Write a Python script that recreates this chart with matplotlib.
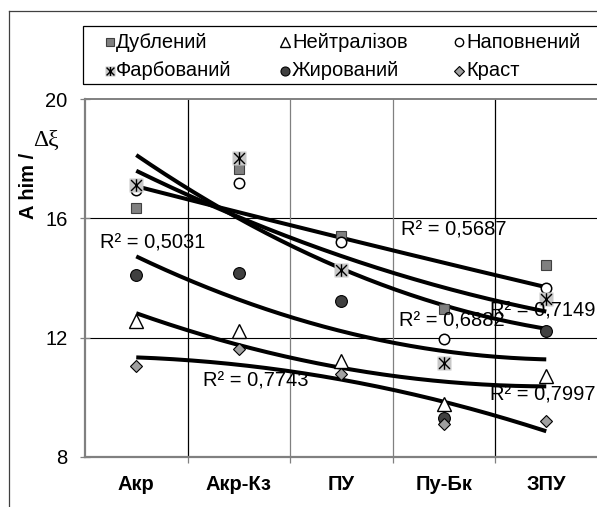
import numpy as np
import matplotlib
matplotlib.use("Agg")
import matplotlib.pyplot as plt
from matplotlib.lines import Line2D
from matplotlib.patches import Rectangle
from matplotlib.path import Path

plt.rcParams['font.family'] = ['Liberation Sans', 'DejaVu Sans']

categories = ["Акр", "Акр-Кз", "ПУ", "Пу-Бк", "ЗПУ"]
series_names = ["Дублений", "Нейтралізов", "Наповнений", "Фарбований", "Жирований", "Краст"]

dubleniy = [16.34, 17.65, 15.42, 12.97, 14.45]
neytralizov = [12.55, 12.22, 11.21, 9.77, 10.71]
napovneniy = [16.95, 17.18, 15.19, 11.94, 13.67]
farbovaniy = [17.12, 18.02, 14.26, 11.14, 13.28]
zhyrovaniy = [14.11, 14.17, 13.22, 9.32, 12.22]
krast = [11.05, 11.61, 10.77, 9.10, 9.21]

r2_labels = ["R² = 0,5687", "R² = 0,7997", "R² = 0,7149", "R² = 0,6882", "R² = 0,5031", "R² = 0,7743"]

yticks = [8, 12, 16, 20]

all_series = [dubleniy, neytralizov, napovneniy, farbovaniy, zhyrovaniy, krast]

FS = 14.5
W, H = 597, 507
fig = plt.figure(figsize=(W / 100, H / 100), dpi=100)

def fx(px):
    return px / W

def fy(py):
    return 1 - py / H

ax = fig.add_axes([fx(85), fy(457), fx(512.5), fy(99) - fy(457)])
x = np.arange(1, len(categories) + 1)
ax.set_xlim(0.5, len(categories) + 0.5)
ax.set_ylim(8, 20)

# gridlines
for yv in [12, 16]:
    ax.axhline(yv, color='black', lw=0.8, zorder=1)
for xv, c in zip([1.5, 2.5, 3.5, 4.5], ['black', '#808080', '#808080', 'black']):
    ax.axvline(xv, color=c, lw=0.9, zorder=1)

ax.spines['right'].set_visible(False)
ax.spines['left'].set_color('#808080')
ax.spines['left'].set_linewidth(1.6)
ax.spines['bottom'].set_color('#808080')
ax.spines['bottom'].set_linewidth(1.6)
ax.spines['top'].set_color('#808080')
ax.spines['top'].set_linewidth(1.4)

ax.set_yticks(yticks)
ax.set_yticklabels([str(v) for v in yticks], fontsize=FS)
ax.tick_params(axis='y', direction='inout', length=7.2, width=0.9, color='#808080', pad=9)
ax.set_xticks(x)
ax.set_xticklabels(categories, fontsize=FS, fontweight='bold')
ax.tick_params(axis='x', which='major', length=0, pad=13)
ax.set_xticks([1.5, 2.5, 3.5, 4.5], minor=True)
ax.tick_params(axis='x', which='minor', direction='out', length=4, width=0.9, color='#808080')

# trendlines (2nd order polynomial)
xf = np.linspace(1, len(categories), 200)
for ys in all_series:
    p = np.polyfit(x, ys, 2)
    ax.plot(xf, np.polyval(p, xf), color='black', lw=2.9, zorder=3, solid_capstyle='butt')

star_marker = Path([(-1, -1), (1, 1), (-1, 1), (1, -1), (0, -1.15), (0, 1.15)],
                   [Path.MOVETO, Path.LINETO, Path.MOVETO, Path.LINETO, Path.MOVETO, Path.LINETO])
styles = [
    dict(marker='s', ms=6.5, mfc='#808080', mec='#404040', mew=0.8),
    dict(marker='^', ms=9.5, mfc='white', mec='black', mew=1.0),
    dict(marker='o', ms=7.5, mfc='white', mec='black', mew=1.1),
    dict(marker=star_marker, ms=9, mfc='none', mec='black', mew=1.0),
    dict(marker='o', ms=8.5, mfc='#404040', mec='black', mew=0.8),
    dict(marker='D', ms=6.3, mfc='#a0a0a0', mec='black', mew=0.8),
]

for i, (ys, st) in enumerate(zip(all_series, styles)):
    if i == 3:
        ax.plot(x, ys, ls='none', marker='s', ms=9.5, mfc='#c8c8c8', mec='none', zorder=4 + i)
    ax.plot(x, ys, ls='none', zorder=4 + i, clip_on=False, **st)

# R² labels (positions in figure px)
label_pos = [(401, 230), (490, 395), (490, 311), (399, 321), (100, 243), (203, 381)]
for lab, (px, py) in zip(r2_labels, label_pos):
    fig.text(fx(px), fy(py), lab, fontsize=FS, ha='left', va='center', zorder=10)

# y label
fig.text(fx(28), fy(186), "A him /", rotation=90, fontsize=FS, fontweight='bold', ha='center', va='center')
fig.text(fx(46), fy(140), "Δξ", fontsize=17, family=['Liberation Serif', 'DejaVu Serif'], ha='center', va='center')

# outer chart border
fig.add_artist(Line2D([fx(9), fx(9)], [fy(11), 0], transform=fig.transFigure, color='#404040', lw=0.9))
fig.add_artist(Line2D([fx(9), 1], [fy(11), fy(11)], transform=fig.transFigure, color='#404040', lw=0.9))

# legend box
fig.add_artist(Rectangle((fx(83), fy(84)), 1.2, fy(26) - fy(84), transform=fig.transFigure,
                         fill=False, ec='black', lw=0.9))
col_marker = [110, 285, 459]
col_text = [116, 292, 466]
row_y = [42, 71]
leg_styles = [
    dict(marker='s', ms=6, mfc='#808080', mec='#404040', mew=0.8),
    dict(marker='^', ms=6.5, mfc='white', mec='black', mew=1.0),
    dict(marker='o', ms=6, mfc='white', mec='black', mew=1.0),
    dict(marker=star_marker, ms=6.5, mfc='none', mec='black', mew=1.0),
    dict(marker='o', ms=6.5, mfc='#404040', mec='black', mew=0.8),
    dict(marker='D', ms=5, mfc='#a0a0a0', mec='black', mew=0.8),
]
for i, name in enumerate(series_names):
    r, c = divmod(i, 3)
    mx, my = fx(col_marker[c]), fy(row_y[r])
    if i == 3:
        fig.add_artist(Line2D([mx], [my], transform=fig.transFigure, ls='none', marker='s', ms=7,
                              mfc='#c8c8c8', mec='none'))
    fig.add_artist(Line2D([mx], [my], transform=fig.transFigure, ls='none', **leg_styles[i]))
    fig.text(fx(col_text[c]), my, name, fontsize=FS, ha='left', va='center')

fig.savefig("out.png", dpi=100)
